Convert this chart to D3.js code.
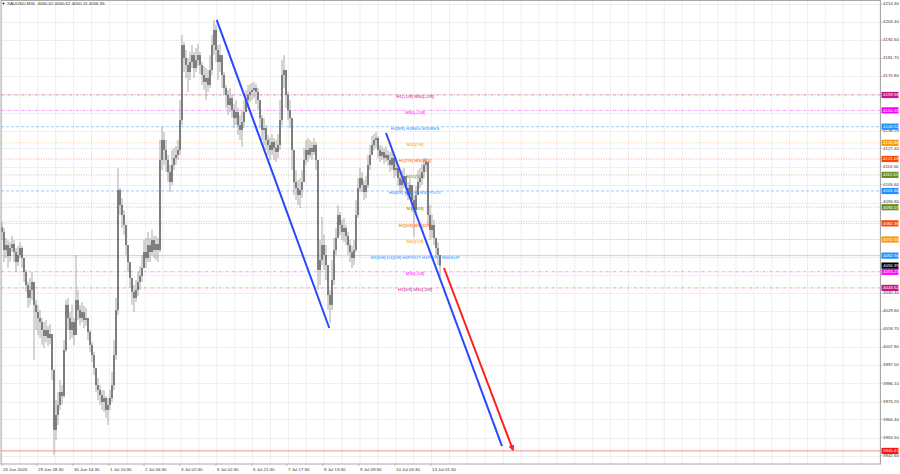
<!DOCTYPE html>
<html>
<head>
<meta charset="utf-8">
<script src="https://cdn.jsdelivr.net/npm/d3@7"></script>
<style>
  body { margin: 0; background: #fff; }
</style>
</head>
<body>
<price-chart></price-chart>
<script>
const chartTitle = 'XAUUSD,M30  4060.62 4060.62 4050.15 4056.95'

// one entry per bar, open = previous close
const firstOpen = 4080.0
const closes = [
  4077.2, 4066.3, 4069.3, 4062.7, 4067.5, 4069.9, 4065.1, 4059.1, 4063.3, 4067.5,
  4061.5, 4053.1, 4045.3, 4037.5, 4042.3, 4047.1, 4033.3, 4029.0, 4025.4, 4023.0,
  4018.2, 4014.6, 4018.2, 4013.4, 4015.8, 3994.2, 3958.1, 3967.1, 3973.1, 3980.9,
  3978.5, 4006.2, 4033.3, 4025.4, 4018.2, 4023.0, 4015.2, 4036.3, 4030.2, 4025.4,
  4029.0, 4024.2, 4025.4, 4017.0, 4009.2, 4003.2, 3995.4, 3985.1, 3982.1, 3979.1,
  3974.9, 3977.3, 3970.1, 3973.1, 3977.3, 3985.1, 4003.2, 4030.2, 4102.4, 4093.4,
  4087.4, 4081.4, 4069.3, 4059.1, 4049.5, 4041.1, 4037.5, 4042.3, 4047.1, 4050.7,
  4055.5, 4065.1, 4061.5, 4069.3, 4065.1, 4072.3, 4066.3, 4069.9, 4066.3, 4120.5,
  4132.5, 4126.5, 4120.5, 4113.2, 4107.2, 4117.5, 4121.7, 4123.5, 4126.5, 4144.5,
  4189.6, 4181.8, 4177.6, 4173.4, 4179.4, 4183.6, 4175.8, 4180.6, 4183.6, 4177.6,
  4171.6, 4167.4, 4169.8, 4165.6, 4174.6, 4189.6, 4198.7, 4186.6, 4179.4, 4183.6,
  4171.6, 4163.8, 4159.6, 4153.5, 4157.7, 4150.5, 4145.7, 4149.3, 4141.5, 4138.5,
  4143.3, 4149.3, 4156.5, 4159.6, 4161.4, 4162.6, 4163.8, 4161.4, 4156.5, 4145.7,
  4138.5, 4139.7, 4132.5, 4129.5, 4126.5, 4131.3, 4127.7, 4125.3, 4129.5, 4144.5,
  4171.6, 4174.6, 4159.6, 4150.5, 4145.7, 4126.5, 4107.2, 4103.6, 4099.4, 4102.4,
  4107.2, 4120.5, 4126.5, 4123.5, 4127.7, 4125.3, 4129.5, 4120.5, 4054.3, 4060.3,
  4069.3, 4063.3, 4057.3, 4039.3, 4033.3, 4048.3, 4066.3, 4073.6, 4087.4, 4081.4,
  4077.2, 4079.6, 4074.8, 4069.3, 4065.1, 4061.5, 4066.3, 4087.4, 4103.6, 4109.6,
  4105.4, 4101.2, 4105.4, 4117.5, 4123.5, 4129.5, 4132.5, 4133.7, 4126.5, 4122.9,
  4125.3, 4121.7, 4123.5, 4120.5, 4117.5, 4121.7, 4114.4, 4115.6, 4109.6, 4105.4,
  4108.4, 4110.8, 4103.6, 4099.4, 4105.4, 4096.4, 4090.4, 4099.4, 4107.2, 4109.6,
  4113.2, 4117.5, 4119.3, 4087.4, 4078.4, 4081.4, 4073.6, 4067.5, 4063.3, 4056.95
]
const highs = [
  4083.2, 4079.6, 4073.6, 4072.3, 4071.1, 4074.8, 4072.3, 4067.5, 4068.7, 4071.1,
  4068.7, 4061.5, 4054.3, 4047.1, 4049.5, 4053.1, 4042.3, 4036.3, 4033.3, 4030.2,
  4025.4, 4023.0, 4024.2, 4020.6, 4021.8, 4014.6, 3994.2, 3976.1, 3980.9, 3988.1,
  3985.1, 4012.2, 4036.3, 4037.5, 4029.0, 4033.3, 4025.4, 4063.3, 4042.3, 4033.3,
  4035.1, 4032.7, 4031.5, 4025.4, 4018.2, 4011.0, 4005.0, 3994.2, 3989.3, 3985.1,
  3982.1, 3982.1, 3978.5, 3977.3, 3982.1, 3993.0, 4012.2, 4037.5, 4115.6, 4103.6,
  4097.6, 4090.4, 4081.4, 4069.3, 4059.1, 4048.3, 4045.3, 4048.3, 4053.1, 4056.7,
  4063.3, 4072.3, 4073.6, 4077.2, 4073.6, 4078.4, 4074.8, 4074.8, 4073.6, 4132.5,
  4140.3, 4137.3, 4132.5, 4123.5, 4117.5, 4126.5, 4127.7, 4128.9, 4132.5, 4156.5,
  4195.6, 4191.4, 4186.6, 4181.8, 4185.4, 4189.6, 4185.4, 4187.8, 4190.2, 4185.4,
  4179.4, 4177.0, 4175.8, 4174.6, 4183.6, 4195.6, 4204.7, 4201.7, 4189.6, 4190.2,
  4183.6, 4173.4, 4165.6, 4162.6, 4163.8, 4159.6, 4154.1, 4156.5, 4151.7, 4147.5,
  4150.5, 4156.5, 4162.6, 4165.6, 4166.2, 4166.8, 4167.4, 4166.2, 4163.8, 4156.5,
  4147.5, 4145.7, 4141.5, 4135.5, 4133.7, 4136.1, 4133.7, 4132.5, 4136.1, 4156.5,
  4180.6, 4183.6, 4169.8, 4161.4, 4156.5, 4144.5, 4123.5, 4114.4, 4108.4, 4109.6,
  4114.4, 4127.7, 4132.5, 4133.7, 4132.5, 4131.3, 4133.7, 4131.3, 4120.5, 4072.3,
  4086.2, 4075.4, 4069.3, 4054.3, 4042.3, 4060.3, 4073.6, 4079.6, 4093.4, 4089.2,
  4084.4, 4085.6, 4081.4, 4077.2, 4072.3, 4068.7, 4072.3, 4096.4, 4109.6, 4115.6,
  4113.2, 4108.4, 4110.8, 4123.5, 4129.5, 4134.9, 4136.1, 4137.3, 4134.9, 4129.5,
  4128.9, 4127.7, 4128.9, 4126.5, 4125.3, 4126.5, 4123.5, 4120.5, 4116.9, 4113.2,
  4114.4, 4115.6, 4110.8, 4107.2, 4109.6, 4103.6, 4099.4, 4104.8, 4114.4, 4115.6,
  4118.1, 4121.7, 4121.7, 4105.4, 4093.4, 4087.4, 4084.4, 4073.6, 4071.1, 4060.62
]
const lows = [
  4072.3, 4059.1, 4061.5, 4055.5, 4059.1, 4065.1, 4059.1, 4053.1, 4056.7, 4061.5,
  4055.5, 4047.1, 4041.1, 4031.5, 4033.3, 4036.3, 4000.2, 4018.2, 4015.2, 4013.4,
  4009.2, 4007.4, 4011.0, 4008.6, 4009.8, 3988.1, 3943.0, 3952.1, 3961.1, 3970.1,
  3973.1, 3977.3, 4005.0, 4018.2, 4012.2, 4013.4, 4009.2, 4018.2, 4024.2, 4021.2,
  4023.0, 4019.4, 4020.6, 4012.2, 4005.0, 3999.0, 3991.2, 3980.9, 3976.1, 3973.1,
  3970.1, 3968.9, 3965.3, 3961.1, 3970.1, 3974.9, 3982.1, 4000.2, 4027.2, 4087.4,
  4079.6, 4075.4, 4063.3, 4053.1, 4043.5, 4033.3, 4029.0, 4035.1, 4038.7, 4042.3,
  4047.1, 4057.3, 4055.5, 4059.1, 4059.1, 4063.3, 4061.5, 4060.3, 4059.1, 4065.1,
  4114.4, 4117.5, 4113.2, 4107.2, 4101.2, 4105.4, 4114.4, 4117.5, 4120.5, 4123.5,
  4141.5, 4173.4, 4169.8, 4161.4, 4168.6, 4175.8, 4169.8, 4173.4, 4177.0, 4172.2,
  4165.6, 4162.6, 4156.5, 4161.4, 4163.8, 4171.6, 4183.6, 4179.4, 4168.6, 4173.4,
  4163.8, 4159.6, 4151.7, 4147.5, 4149.3, 4145.7, 4139.7, 4141.5, 4135.5, 4132.5,
  4128.3, 4139.7, 4149.3, 4151.7, 4155.3, 4156.5, 4157.7, 4154.1, 4150.5, 4139.7,
  4132.5, 4129.5, 4126.5, 4123.5, 4120.5, 4123.5, 4120.5, 4119.3, 4121.7, 4126.5,
  4141.5, 4163.8, 4151.7, 4144.5, 4139.7, 4114.4, 4099.4, 4096.4, 4093.4, 4091.6,
  4097.6, 4109.6, 4117.5, 4119.3, 4121.7, 4120.5, 4123.5, 4114.4, 4042.3, 4045.3,
  4057.3, 4054.3, 4048.3, 4030.2, 4022.4, 4030.2, 4045.3, 4063.3, 4075.4, 4075.4,
  4072.3, 4071.1, 4069.3, 4063.3, 4059.1, 4055.5, 4057.3, 4065.1, 4085.6, 4101.2,
  4101.2, 4096.4, 4097.6, 4103.6, 4114.4, 4123.5, 4126.5, 4127.7, 4121.7, 4119.3,
  4120.5, 4118.1, 4119.3, 4116.9, 4113.2, 4114.4, 4109.6, 4110.8, 4104.8, 4101.2,
  4102.4, 4103.6, 4098.8, 4096.4, 4097.6, 4089.2, 4074.2, 4087.4, 4099.4, 4103.6,
  4105.4, 4109.6, 4113.2, 4081.4, 4072.3, 4073.6, 4069.3, 4061.5, 4057.3, 4050.15
]

const priceTicks = [
  4214.30, 4203.40, 4192.60, 4181.70, 4170.80, 4159.90, 4149.00, 4138.20, 4127.40,
  4116.50, 4105.60, 4094.80, 4083.90, 4073.00, 4062.10, 4051.30, 4040.40, 4029.60,
  4018.70, 4007.80, 3997.00, 3986.10, 3975.20, 3964.40, 3953.50, 3942.60
]

const timeLabels = ['26 Jun 2026', '29 Jun 18:30', '30 Jun 14:30', '1 Jul 10:30', '2 Jul 06:30',
  '3 Jul 02:30', '6 Jul 02:30', '6 Jul 21:30', '7 Jul 17:30', '8 Jul 13:30', '9 Jul 09:30',
  '10 Jul 05:30', '13 Jul 01:30']
const timeBars = [0, 17.5, 35.5, 53.5, 71, 89, 107, 125, 142.5, 160.5, 178.5, 196.5, 214.5]

// murrey math levels
const levelPrices = [4159.58, 4150.33, 4140.52, 4130.80, 4121.09, 4111.51, 4101.80,
  4092.07, 4082.36, 4072.65, 4062.94, 4053.23, 4043.52]
const levelNames = ['H1[+1/8] M30[+2/8]', 'M30[+1/8]', 'H4[8/8] H1RES M30RES', 'M30[7/8]',
  'H1[7/8] M30[6/8]', 'M30[5/8]', 'H4[6/8] H1[6/8] M30PIVOT', 'M30[3/8]', 'H1[5/8] M30[2/8]',
  'M30[1/8]', 'W1[6/8] D1[2/8] H4PIVOT H1PIVOT M30SUP', 'M30[-1/8]', 'H1[3/8] M30[-2/8]']
const levelColors = ['#c71585', '#ff00ff', '#1e90ff', '#ff9900', '#ff4500', '#6b8e23', '#1e90ff',
  '#6b8e23', '#ff4500', '#ff9900', '#1e90ff', '#ff00ff', '#c71585']
const levelStyles = ['dashdot', 'dashdot', 'dash', 'dot', 'dot', 'dot', 'dash',
  'dot', 'dot', 'dot', 'solid', 'dashdot', 'dashdot']

const rangeLow = 3945.47

// [bar, price, bar, price]
const blueTrends = [[107.35, 4204.7, 163.65, 4019.4], [192, 4136.7, 250, 3948.4]]
const redArrow = [221, 4055.5, 255.5, 3946.0]

class PriceChart extends HTMLElement {
  constructor() {
    super()

    this.wrapper = document.createElement('div')
    this.attachShadow({mode: 'open'})
    this.shadowRoot.append(this.wrapper)

    this.renderPlot()
  }

  renderPlot() {
    const width = 900
    const height = 474
    const plotRight = 880.5
    const plotBottom = 464
    const font = '"Liberation Sans", Arial, sans-serif'

    const svg = d3.select(this.wrapper).append('svg')
      .attr('width', width)
      .attr('height', height)
      .style('display', 'block')
      .style('font-family', font)

    const x = d3.scaleLinear().domain([0, 219]).range([2, 440])
    const y = d3.scaleLinear().domain([3942.6, 4214.3]).range([455.7, 4.0])

    // grid
    const grid = svg.append('g')
    grid.selectAll('line.h').data(priceTicks).enter().append('line')
      .attr('x1', 1).attr('x2', plotRight)
      .attr('y1', d => Math.round(y(d)) + 0.5).attr('y2', d => Math.round(y(d)) + 0.5)
      .attr('stroke', '#ebebeb').attr('stroke-width', 0.8)
    const gridStep = timeBars[1] / 2 + 0.2
    grid.selectAll('line.v').data(d3.range(0, x.invert(plotRight), gridStep)).enter().append('line')
      .attr('x1', d => x(d)).attr('x2', d => x(d))
      .attr('y1', 1).attr('y2', plotBottom)
      .attr('stroke', '#ebebeb').attr('stroke-width', 0.8)

    // level lines
    const dashes = {dashdot: '3,1.5,0.8,1.5', dash: '3,2', dot: '1,1.5', solid: null}
    const levels = levelPrices.map((p, i) => ({p, name: levelNames[i], color: levelColors[i], style: levelStyles[i]}))

    svg.append('g').selectAll('line').data(levels).enter().append('line')
      .attr('x1', 1).attr('x2', plotRight)
      .attr('y1', d => y(d.p)).attr('y2', d => y(d.p))
      .attr('stroke', d => d.color)
      .attr('stroke-opacity', d => d.style === 'solid' ? 0.45 : 0.55)
      .attr('stroke-width', 0.8)
      .attr('stroke-dasharray', d => dashes[d.style])

    svg.append('line')
      .attr('x1', 1).attr('x2', plotRight)
      .attr('y1', y(rangeLow)).attr('y2', y(rangeLow))
      .attr('stroke', '#ff3030').attr('stroke-opacity', 0.7).attr('stroke-width', 0.8)

    // bars
    const bars = closes.map((c, i) => {
      const o = i === 0 ? firstOpen : closes[i - 1]
      return {i, o, c, h: Math.max(highs[i], o, c), l: Math.min(lows[i], o, c)}
    })
    const candles = svg.append('g')
    candles.selectAll('line').data(bars).enter().append('line')
      .attr('x1', d => x(d.i)).attr('x2', d => x(d.i))
      .attr('y1', d => y(d.h)).attr('y2', d => y(d.l))
      .attr('stroke', '#a0a0a0').attr('stroke-width', 0.9)
    candles.selectAll('rect').data(bars).enter().append('rect')
      .attr('x', d => x(d.i) - 0.55).attr('width', 1.1)
      .attr('y', d => y(Math.max(d.o, d.c)))
      .attr('height', d => Math.max(0.8, Math.abs(y(d.o) - y(d.c))))
      .attr('fill', '#3a3a3a')

    // level names
    svg.append('g').selectAll('text').data(levels).enter().append('text')
      .attr('x', 415).attr('y', d => y(d.p) + 2)
      .attr('text-anchor', 'middle').attr('dominant-baseline', 'middle')
      .attr('font-size', 4.4)
      .attr('fill', d => d.color)
      .text(d => d.name)

    // trend lines
    svg.append('g').selectAll('line').data(blueTrends).enter().append('line')
      .attr('x1', d => x(d[0])).attr('y1', d => y(d[1]))
      .attr('x2', d => x(d[2])).attr('y2', d => y(d[3]))
      .attr('stroke', '#2a48ff').attr('stroke-width', 2)

    svg.append('defs').append('marker')
      .attr('id', 'arrow').attr('viewBox', '0 0 10 10')
      .attr('refX', 8).attr('refY', 5)
      .attr('markerWidth', 3).attr('markerHeight', 3)
      .attr('orient', 'auto')
      .append('path').attr('d', 'M0,0L10,5L0,10z').attr('fill', '#ff2020')
    svg.append('line')
      .attr('x1', x(redArrow[0])).attr('y1', y(redArrow[1]))
      .attr('x2', x(redArrow[2])).attr('y2', y(redArrow[3]))
      .attr('stroke', '#ff2020').attr('stroke-width', 2)
      .attr('marker-end', 'url(#arrow)')

    // frame
    svg.append('rect')
      .attr('x', 1).attr('y', 0.5)
      .attr('width', plotRight - 1).attr('height', plotBottom - 0.5)
      .attr('fill', 'none').attr('stroke', '#a8a8a8').attr('stroke-width', 1)

    // price axis, boxes sit over the tick labels
    const boxes = levels.map(d => ({p: d.p, color: d.color}))
      .concat([{p: closes[closes.length - 1], color: '#000'}, {p: rangeLow, color: '#ff1010'}])
    const boxY = boxes.map(d => y(d.p))
    const ticks = priceTicks.map(p => {
      let ty = y(p)
      const near = boxY.reduce((a, b) => Math.abs(b - ty) < Math.abs(a - ty) ? b : a)
      const gap = ty - near
      if (Math.abs(gap) < 3.3) return null
      if (Math.abs(gap) < 5.5 && gap < 0) ty = near - 5.5
      return {p, ty}
    }).filter(d => d)

    const axis = svg.append('g')
    axis.selectAll('text').data(ticks).enter().append('text')
      .attr('x', 883).attr('y', d => d.ty)
      .attr('dominant-baseline', 'middle')
      .attr('font-size', 4.4).attr('fill', '#333')
      .text(d => d.p.toFixed(2))
    axis.selectAll('line').data(priceTicks).enter().append('line')
      .attr('x1', plotRight).attr('x2', plotRight + 2)
      .attr('y1', d => y(d)).attr('y2', d => y(d))
      .attr('stroke', '#999').attr('stroke-width', 0.6)

    const box = svg.append('g').selectAll('g').data(boxes).enter().append('g')
      .attr('transform', d => `translate(881.5,${y(d.p)})`)
    box.append('rect')
      .attr('x', 0).attr('y', -3.1).attr('width', 17).attr('height', 6.2)
      .attr('fill', d => d.color)
    box.append('text')
      .attr('x', 1.5).attr('y', 0.2)
      .attr('dominant-baseline', 'middle')
      .attr('font-size', 4.4).attr('fill', '#fff')
      .text(d => d.p.toFixed(2))

    // time axis
    const timeAxis = svg.append('g')
    timeAxis.selectAll('text').data(timeLabels).enter().append('text')
      .attr('x', (d, i) => x(timeBars[i]) + 1).attr('y', 469.5)
      .attr('dominant-baseline', 'middle')
      .attr('font-size', 4.4).attr('fill', '#333')
      .text(d => d)
    timeAxis.selectAll('line').data(timeBars).enter().append('line')
      .attr('x1', d => x(d)).attr('x2', d => x(d))
      .attr('y1', plotBottom).attr('y2', plotBottom + 2)
      .attr('stroke', '#999').attr('stroke-width', 0.6)

    // title
    svg.append('path')
      .attr('d', 'M2,2.8L5,2.8L3.5,4.8z').attr('fill', '#333')
    svg.append('text')
      .attr('x', 7).attr('y', 4)
      .attr('dominant-baseline', 'middle')
      .attr('font-size', 4.4).attr('fill', '#333')
      .attr('xml:space', 'preserve')
      .text(chartTitle)
  }
}

window.customElements.define('price-chart', PriceChart)
</script>
</body>
</html>
